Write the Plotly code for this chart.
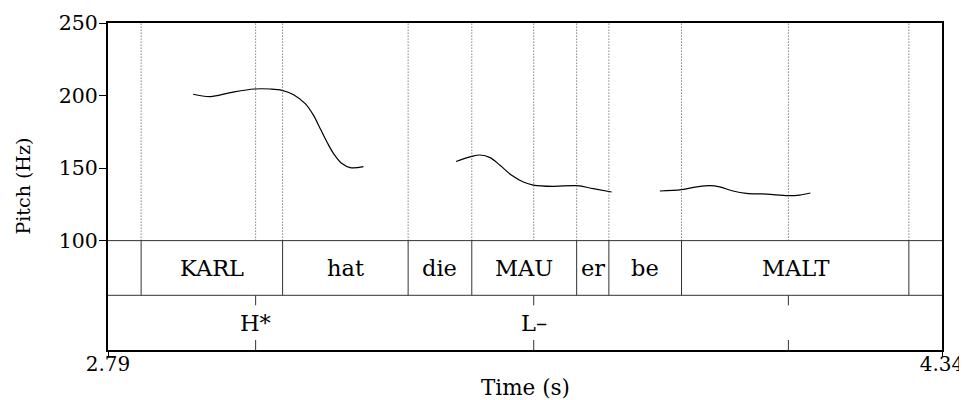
import plotly.graph_objects as go

# ---- data ----
x_min, x_max = 2.79, 4.34

seg1_t = [2.9482, 2.9803, 3.0174, 3.0620, 3.0917, 3.1134, 3.1349, 3.1566, 3.1720,
          3.1845, 3.1969, 3.2092, 3.2248, 3.2402, 3.2648]
seg1_hz = [200.9, 199.3, 202.0, 204.5, 204.5, 203.6, 200.6, 194.4, 186.3,
           177.1, 168.0, 160.0, 153.1, 150.3, 151.0]

seg2_t = [3.4369, 3.4661, 3.4815, 3.5001, 3.5186, 3.5403, 3.5619, 3.5804, 3.6176,
          3.6610, 3.6918, 3.7260]
seg2_hz = [154.5, 158.1, 159.0, 157.2, 151.9, 145.0, 140.4, 138.3, 137.4,
           137.9, 135.8, 133.5]

seg3_t = [3.8156, 3.8559, 3.8837, 3.9084, 3.9270, 3.9517, 3.9766, 4.0137, 4.0538,
          4.0755, 4.0954]
seg3_hz = [134.2, 135.2, 137.0, 137.9, 137.0, 134.2, 132.6, 132.1, 131.0,
           131.4, 132.8]

word_bounds = [2.8516, 3.1145, 3.3478, 3.4661, 3.6610, 3.7209, 3.8559, 4.2784]
word_labels = ["KARL", "hat", "die", "MAU", "er", "be", "MALT"]

tone_times = [3.0644, 3.5812, 4.0545]
tone_labels = ["H*", "L–", ""]

pitch_ticks = [100, 150, 200, 250]
time_ticks = [2.79, 4.34]
time_tick_text = ["2.79", "4.34"]

# ---- layout constants ----
y_top = 250
tier1_top = 100
tier_h = 37.7
tier1_bot = tier1_top - tier_h
tier2_bot = tier1_bot - tier_h
tick_h = 6.9

FONT = "DejaVu Serif"

fig = go.Figure()
for t, hz in [(seg1_t, seg1_hz), (seg2_t, seg2_hz), (seg3_t, seg3_hz)]:
    fig.add_trace(go.Scatter(x=t, y=hz, mode="lines",
                             line=dict(color="black", width=1.2, shape="spline"),
                             showlegend=False, hoverinfo="skip"))

shapes = []
dot_color = "#444444"
tier_color = "#333333"
# dotted lines in pitch area
for b in word_bounds + tone_times:
    shapes.append(dict(type="line", x0=b, x1=b, y0=tier1_top, y1=y_top, xref="x", yref="y",
                       line=dict(color=dot_color, width=1, dash="1px,2px")))
# tier horizontal lines
for yy in [tier1_top, tier1_bot]:
    shapes.append(dict(type="line", x0=x_min, x1=x_max, y0=yy, y1=yy, xref="x", yref="y",
                       line=dict(color=tier_color, width=1)))
# word boundaries
for b in word_bounds:
    shapes.append(dict(type="line", x0=b, x1=b, y0=tier1_bot, y1=tier1_top, xref="x", yref="y",
                       line=dict(color=tier_color, width=1)))
# tone point ticks
for t in tone_times:
    shapes.append(dict(type="line", x0=t, x1=t, y0=tier1_bot - tick_h, y1=tier1_bot,
                       xref="x", yref="y", line=dict(color=tier_color, width=1)))
    shapes.append(dict(type="line", x0=t, x1=t, y0=tier2_bot, y1=tier2_bot + tick_h,
                       xref="x", yref="y", line=dict(color=tier_color, width=1)))

annotations = []
for i, w in enumerate(word_labels):
    annotations.append(dict(x=(word_bounds[i] + word_bounds[i + 1]) / 2,
                            y=(tier1_top + tier1_bot) / 2, xref="x", yref="y",
                            text=w, showarrow=False, xanchor="center", yanchor="middle",
                            font=dict(family=FONT, size=22.5, color="black")))
for t, lab in zip(tone_times, tone_labels):
    if lab:
        annotations.append(dict(x=t, y=(tier1_bot + tier2_bot) / 2, xref="x", yref="y",
                                text=lab, showarrow=False, xanchor="center", yanchor="middle",
                                font=dict(family=FONT, size=22.5, color="black")))
annotations.append(dict(x=0.5, y=0, xref="paper", yref="paper", yshift=-37,
                        text="Time (s)", showarrow=False, xanchor="center", yanchor="middle",
                        font=dict(family=FONT, size=21.5, color="black")))
annotations.append(dict(x=0, y=0.5, xref="paper", yref="paper", xshift=-86,
                        text="Pitch (Hz)", showarrow=False, textangle=-90,
                        xanchor="center", yanchor="middle",
                        font=dict(family=FONT, size=19, color="black")))

fig.update_layout(
    width=959, height=392,
    margin=dict(l=99.5, r=24.5, t=14.7, b=50.3, autoexpand=False),
    paper_bgcolor="white", plot_bgcolor="white",
    shapes=shapes, annotations=annotations,
    font=dict(family=FONT, size=20.5, color="black"),
    xaxis=dict(range=[x_min, x_max], tickvals=time_ticks, ticktext=time_tick_text,
               ticks="outside", ticklen=5, tickwidth=1, tickcolor="black",
               ticklabelstandoff=-10,
               showline=True, linecolor="black", linewidth=2, mirror=True,
               showgrid=False, zeroline=False, tickfont=dict(family=FONT, size=20)),
    yaxis=dict(range=[tier2_bot, y_top], tickvals=pitch_ticks,
               ticks="outside", ticklen=7, tickwidth=1, tickcolor="black",
               ticklabelstandoff=-3,
               showline=True, linecolor="black", linewidth=2, mirror=True,
               showgrid=False, zeroline=False, tickfont=dict(family=FONT, size=20.5)),
)

fig.write_html("out.html")
